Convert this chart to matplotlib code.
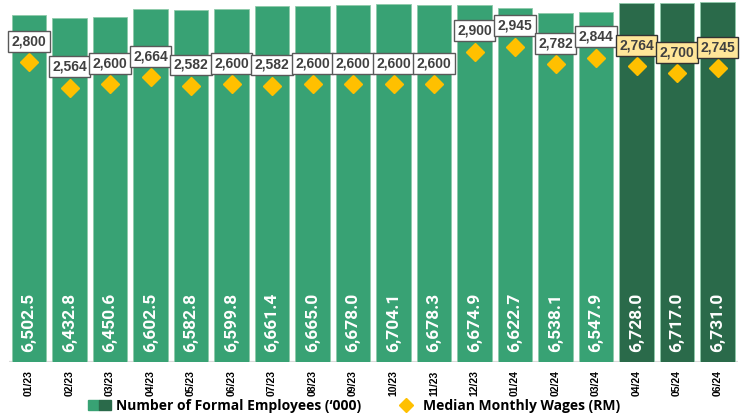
import numpy as np
import matplotlib
matplotlib.use("Agg")
import matplotlib.pyplot as plt
from matplotlib.patches import Patch
from matplotlib.lines import Line2D
from matplotlib.legend_handler import HandlerTuple

# data
months = ['01/23', '02/23', '03/23', '04/23', '05/23', '06/23', '07/23', '08/23', '09/23',
          '10/23', '11/23', '12/23', '01/24', '02/24', '03/24', '04/24', '05/24', '06/24']
employees = [6502.5, 6432.8, 6450.6, 6602.5, 6582.8, 6599.8, 6661.4, 6665.0, 6678.0,
             6704.1, 6678.3, 6674.9, 6622.7, 6538.1, 6547.9, 6728.0, 6717.0, 6731.0]
wages = [2800, 2564, 2600, 2664, 2582, 2600, 2582, 2600, 2600,
         2600, 2600, 2900, 2945, 2782, 2844, 2764, 2700, 2745]
n_dark = 3  # last months shown darker

light_green = '#38A274'
dark_green = '#2A6A4A'
gold = '#FFC000'

fig = plt.figure(figsize=(7.48, 4.16), dpi=100)
ax = fig.add_axes([0.0117, 0.13, 0.9746, 0.87])

x = np.arange(len(months))
cols = [light_green] * (len(months) - n_dark) + [dark_green] * n_dark
bars = ax.bar(x, employees, width=0.86, color=cols, edgecolor='#8FCBAA', linewidth=0.6)
ax.axhline(0, color='#D9D9D9', lw=1.6, zorder=0)

for xi, v in zip(x, employees):
    ax.annotate(f'{v:,.1f}', (xi, 0), xytext=(0, 7), textcoords='offset points',
                rotation=90, ha='center', va='bottom', color='white',
                fontsize=12.5, family='Roboto', fontweight='bold')

ax.set_xlim(-0.5, len(months) - 0.5)
ax.set_ylim(0, 6775)
ax.set_yticks([])
ax.set_xticks(x)
ax.set_xticklabels(months, rotation=90, fontsize=7.5, fontweight='bold', family='Liberation Sans')
ax.tick_params(axis='x', length=0, pad=6)
for s in ax.spines.values():
    s.set_visible(False)

ax2 = ax.twinx()
ax2.plot(x, wages, linestyle='none', marker='D', color=gold, markersize=9)
ax2.set_ylim(15, 3380)
ax2.set_yticks([])
for s in ax2.spines.values():
    s.set_visible(False)

for i, (xi, w) in enumerate(zip(x, wages)):
    dark = i >= len(months) - n_dark
    ax2.annotate(f'{w:,}', (xi, w), xytext=(0, 15), textcoords='offset points',
                 ha='center', va='center', fontsize=10, fontweight='bold',
                 family='Liberation Sans', color='#404040',
                 bbox=dict(boxstyle='square,pad=0.25', fc='#FFE699' if dark else 'white',
                           ec='#333333' if dark else '#595959', lw=1))

h1 = (Patch(color=light_green), Patch(color=dark_green))
h2 = Line2D([], [], linestyle='none', marker='D', color=gold, markersize=7)
fig.legend([h1, h2], ['Number of Formal Employees (\u2018000)', 'Median Monthly Wages (RM)'],
           handler_map={tuple: HandlerTuple(ndivide=None, pad=0)},
           loc='center', bbox_to_anchor=(0.473, 0.024), ncol=2, frameon=False,
           prop={'family': 'Open Sans', 'weight': 'bold', 'size': 10},
           handlelength=1.7, handletextpad=0.35, columnspacing=2.4)

fig.savefig('out.png', dpi=100)
